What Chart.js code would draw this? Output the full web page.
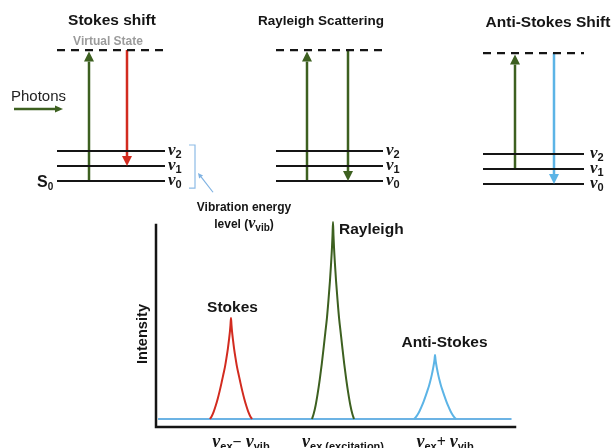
<!DOCTYPE html>
<html><head><meta charset="utf-8">
<script src="https://cdn.jsdelivr.net/npm/chart.js@4.4.1/dist/chart.umd.min.js"></script>
<style>
html,body{margin:0;padding:0;background:#fff;}
#wrap{position:relative;width:613px;height:448px;overflow:hidden;background:#fff;}
canvas{position:absolute;left:0;top:0;}
</style></head><body>
<div id="wrap"><canvas id="diagram" width="613" height="448"></canvas><canvas id="spectrum" width="613" height="448"></canvas></div>
<script>
// ================= DATA =================
const panelTitles = ['Stokes shift', 'Rayleigh Scattering', 'Anti-Stokes Shift'];
const vibLevels = [0, 1, 2];            // ν0, ν1, ν2
const vibLabels = ['0', '1', '2'];
const virtualLevel = 8.73;              // virtual state (energy units)
const excitationFrom = [0, 0, 1];       // up-arrow start level per panel
const emissionTo = [1, 0, 0];           // down-arrow end level per panel

const peakNames = ['Stokes', 'Rayleigh', 'Anti-Stokes'];
const peakCenters = [-1, 0, 1];         // ν_ex − ν_vib, ν_ex, ν_ex + ν_vib
const peakOffsets = [-0.206,-0.19,-0.17,-0.15,-0.13,-0.11,-0.09,-0.075,-0.06,-0.045,-0.03,-0.02,-0.01,-0.005,0,
                      0.005,0.01,0.02,0.03,0.045,0.06,0.075,0.09,0.11,0.13,0.15,0.17,0.19,0.206];
const stokesIntensity = [0,0.013,0.036,0.067,0.103,0.144,0.190,0.226,0.262,0.308,0.359,0.400,0.446,0.477,0.513,
                          0.477,0.446,0.400,0.359,0.308,0.262,0.226,0.190,0.144,0.103,0.067,0.036,0.013,0];
const rayleighIntensity = [0,0.025,0.070,0.130,0.200,0.280,0.370,0.440,0.510,0.600,0.700,0.780,0.870,0.930,1.000,
                            0.930,0.870,0.780,0.700,0.600,0.510,0.440,0.370,0.280,0.200,0.130,0.070,0.025,0];
const antiStokesIntensity = [0,0.008,0.023,0.042,0.065,0.091,0.120,0.143,0.166,0.195,0.228,0.254,0.283,0.302,0.325,
                              0.302,0.283,0.254,0.228,0.195,0.166,0.143,0.120,0.091,0.065,0.042,0.023,0.008,0];
const baselineX = [-1.715, 1.75];
const baselineIntensity = [0, 0];

// ================= LAYOUT / STYLE =================
const INK = '#151515', GREEN = '#3d6020', RED = '#d22b1f', BLUE = '#5cb4e6', BASEBLUE = '#6cb3e4';
const SANS = "'Liberation Sans', Arial, sans-serif", SERIF = "'Liberation Serif', 'DejaVu Serif', serif";
const D_YMIN = -17.8, D_YMAX = 12.0667;
const PXY = 448 / (D_YMAX - D_YMIN);
const panels = [
  {x0:57,  x1:165, up:89,  down:127, shift:0,    titleX:112, titleY:25, titleSize:15.5, gap:3, downColor:RED},
  {x0:276, x1:383, up:307, down:348, shift:0,    titleX:321, titleY:25, titleSize:13.5, gap:3, downColor:GREEN},
  {x0:483, x1:584, up:515, down:554, shift:-0.2, titleX:548, titleY:27, titleSize:15.5, gap:6, downColor:BLUE}
];
const peakColors = [RED, GREEN, BLUE];
const peakSeries = [stokesIntensity, rayleighIntensity, antiStokesIntensity];

function lineDS(pts, color, width, dash) {
  return {data: pts.map(p => ({x:p[0], y:p[1]})), borderColor: color, borderWidth: width,
          borderDash: dash || [], showLine: true, pointRadius: 0, clip: false, borderCapStyle: 'butt'};
}
function arrowDS(x0, y0, x1, y1, color, width, headLen, headW) {
  const dxp = x1 - x0, dyp = (y1 - y0) * PXY;
  const len = Math.hypot(dxp, dyp);
  const bx = x1 - dxp / len * headLen, by = y1 - (dyp / len * headLen) / PXY;
  const ds = lineDS([[x0, y0], [bx, by]], color, width);
  ds.arrow = {x: x1, y: y1, len: headLen, w: headW, color: color};
  return ds;
}

const diagramData = [];
panels.forEach((p, i) => {
  vibLevels.forEach(v => diagramData.push(lineDS([[p.x0, v + p.shift], [p.x1, v + p.shift]], INK, 2.2)));
  diagramData.push(lineDS([[p.x0, virtualLevel + p.shift], [p.x1, virtualLevel + p.shift]], INK, 2.2, [8, 6]));
  diagramData.push(arrowDS(p.up, vibLevels[excitationFrom[i]] + p.shift, p.up, virtualLevel + p.shift - 0.1, GREEN, 2.5, 10, 10));
  diagramData.push(arrowDS(p.down, virtualLevel + p.shift, p.down, vibLevels[emissionTo[i]] + p.shift, p.downColor, 2.5, 10, 10));
});
// photons arrow
diagramData.push(arrowDS(14, 4.8, 63, 4.8, GREEN, 2.5, 8, 7));
// bracket for vibration levels
diagramData.push(lineDS([[189, 2.4], [195, 2.4], [195, -0.47], [189, -0.47]], '#8dbbe6', 1.2));
// pointer arrow
diagramData.push(arrowDS(213, -0.75, 198, 0.53, '#7fb2e2', 1.2, 5, 5));

function rich(ctx, segs, x, y, align) {
  let w = 0;
  segs.forEach(s => { ctx.font = s.f; w += ctx.measureText(s.t).width + (s.g || 0); });
  let cx = align === 'center' ? x - w / 2 : x;
  ctx.textAlign = 'left'; ctx.textBaseline = 'alphabetic';
  segs.forEach(s => { ctx.font = s.f; ctx.fillStyle = s.c || INK; ctx.fillText(s.t, cx, y + (s.dy || 0)); cx += ctx.measureText(s.t).width + (s.g || 0); });
}

const arrowPlugin = {
  id: 'arrowheads',
  afterDatasetsDraw(chart) {
    const ctx = chart.ctx, xs = chart.scales.x, ys = chart.scales.y;
    chart.data.datasets.forEach(ds => {
      if (!ds.arrow) return;
      const a = ds.arrow;
      const tx = xs.getPixelForValue(a.x), ty = ys.getPixelForValue(a.y);
      const b = ds.data[ds.data.length - 1];
      const bx = xs.getPixelForValue(b.x), by = ys.getPixelForValue(b.y);
      const ux = (tx - bx) / a.len, uy = (ty - by) / a.len;
      const nx = -uy, ny = ux;
      ctx.save(); ctx.fillStyle = a.color; ctx.beginPath();
      ctx.moveTo(tx, ty);
      ctx.lineTo(bx + nx * a.w / 2, by + ny * a.w / 2);
      ctx.lineTo(bx - nx * a.w / 2, by - ny * a.w / 2);
      ctx.closePath(); ctx.fill(); ctx.restore();
    });
  }
};

const diagramText = {
  id: 'diagramText',
  afterDraw(chart) {
    const ctx = chart.ctx, ys = chart.scales.y, xs = chart.scales.x;
    ctx.save();
    panels.forEach((p, i) => {
      ctx.font = `bold ${p.titleSize}px ${SANS}`; ctx.fillStyle = INK; ctx.textAlign = 'center'; ctx.textBaseline = 'alphabetic';
      ctx.fillText(panelTitles[i], p.titleX, p.titleY);
      vibLevels.forEach((v, k) => {
        const py = ys.getPixelForValue(v + p.shift);
        rich(ctx, [{t:'ν', f:`italic bold 17px ${SERIF}`}, {t:vibLabels[k], f:`bold 11px ${SANS}`, dy:3}], xs.getPixelForValue(p.x1) + p.gap, py + 4, 'left');
      });
    });
    ctx.font = `bold 12px ${SANS}`; ctx.fillStyle = '#9b9b9b'; ctx.textAlign = 'center';
    ctx.fillText('Virtual State', 108, 45);
    ctx.font = `15px ${SANS}`; ctx.fillStyle = '#222'; ctx.textAlign = 'left';
    ctx.fillText('Photons', 11, 101);
    const s0y = ys.getPixelForValue(vibLevels[0]);
    rich(ctx, [{t:'S', f:`bold 16px ${SANS}`}, {t:'0', f:`bold 10px ${SANS}`, dy:3}], 37, s0y + 6, 'left');
    ctx.font = `bold 12px ${SANS}`; ctx.fillStyle = INK; ctx.textAlign = 'center';
    ctx.fillText('Vibration energy', 244, 211);
    rich(ctx, [{t:'level (', f:`bold 12px ${SANS}`}, {t:'ν', f:`italic bold 16px ${SERIF}`}, {t:'vib', f:`bold 10px ${SANS}`, dy:3}, {t:')', f:`bold 12px ${SANS}`}], 244, 228, 'center');
    ctx.restore();
  }
};

new Chart(document.getElementById('diagram'), {
  type: 'scatter',
  data: {datasets: diagramData},
  options: {
    responsive: false, animation: false, events: [],
    layout: {padding: 0},
    plugins: {legend: {display: false}, tooltip: {enabled: false}},
    scales: {x: {type: 'linear', display: false, min: 0, max: 613}, y: {type: 'linear', display: false, min: D_YMIN, max: D_YMAX}}
  },
  plugins: [arrowPlugin, diagramText]
});

// ================= SPECTRUM =================
const specData = peakSeries.map((vals, i) => ({
  label: peakNames[i],
  data: vals.map((v, j) => ({x: peakCenters[i] + peakOffsets[j], y: v})),
  borderColor: peakColors[i], borderWidth: 2, showLine: true, pointRadius: 0,
  cubicInterpolationMode: 'monotone', clip: false, order: 0
}));
specData.push({label: 'baseline', data: baselineX.map((x, j) => ({x: x, y: baselineIntensity[j]})),
  borderColor: BASEBLUE, borderWidth: 2, showLine: true, pointRadius: 0, clip: false, order: 1});

const axesPlugin = {
  id: 'axes',
  beforeDatasetsDraw(chart) {
    const {ctx, chartArea: a} = chart;
    ctx.save(); ctx.strokeStyle = INK; ctx.lineWidth = 2.5; ctx.lineCap = 'square';
    ctx.beginPath(); ctx.moveTo(a.left, a.top); ctx.lineTo(a.left, a.bottom); ctx.lineTo(a.right, a.bottom); ctx.stroke();
    ctx.restore();
  }
};
const peakLabelPos = [
  {dx: 1.5, dy: -6, align: 'center'},
  {dx: 6, dy: 12, align: 'left'},
  {dx: 9.5, dy: -8, align: 'center'}
];
const specText = {
  id: 'specText',
  afterDraw(chart) {
    const ctx = chart.ctx, xs = chart.scales.x, ys = chart.scales.y, a = chart.chartArea;
    ctx.save();
    ctx.fillStyle = INK; ctx.font = `bold 15.5px ${SANS}`; ctx.textBaseline = 'alphabetic';
    peakNames.forEach((n, i) => {
      const px = xs.getPixelForValue(peakCenters[i]);
      const py = ys.getPixelForValue(Math.max(...peakSeries[i]));
      ctx.textAlign = peakLabelPos[i].align;
      ctx.fillText(n, px + peakLabelPos[i].dx, py + peakLabelPos[i].dy);
    });
    ctx.save(); ctx.translate(a.left - 14, (a.top + a.bottom) / 2 + 8); ctx.rotate(-Math.PI / 2);
    ctx.font = `bold 14.6px ${SANS}`; ctx.textAlign = 'center'; ctx.fillText('Intensity', 0, 5); ctx.restore();
    const NU = `italic bold 18px ${SERIF}`, SUB = `bold 11px ${SANS}`, OP = `bold 16px ${SERIF}`;
    const tickSegs = [
      [{t:'ν', f:NU}, {t:'ex', f:SUB, dy:3}, {t:'− ', f:OP}, {t:'ν', f:NU}, {t:'vib', f:SUB, dy:3}],
      [{t:'ν', f:NU}, {t:'ex (excitation)', f:SUB, dy:3}],
      [{t:'ν', f:NU}, {t:'ex', f:SUB, dy:3}, {t:'+ ', f:OP}, {t:'ν', f:NU}, {t:'vib', f:SUB, dy:3}]
    ];
    tickSegs.forEach((segs, i) => rich(ctx, segs, xs.getPixelForValue(peakCenters[i]) + 10, a.bottom + 20, 'center'));
    ctx.restore();
  }
};

new Chart(document.getElementById('spectrum'), {
  type: 'scatter',
  data: {datasets: specData},
  options: {
    responsive: false, animation: false, events: [],
    layout: {padding: {left: 156, right: 98, top: 225, bottom: 21}},
    plugins: {legend: {display: false}, tooltip: {enabled: false}},
    scales: {x: {type: 'linear', display: false, min: -1.735, max: 1.784},
             y: {type: 'linear', display: false, min: -0.0406, max: 0.985}}
  },
  plugins: [axesPlugin, specText]
});
</script>
</body></html>
